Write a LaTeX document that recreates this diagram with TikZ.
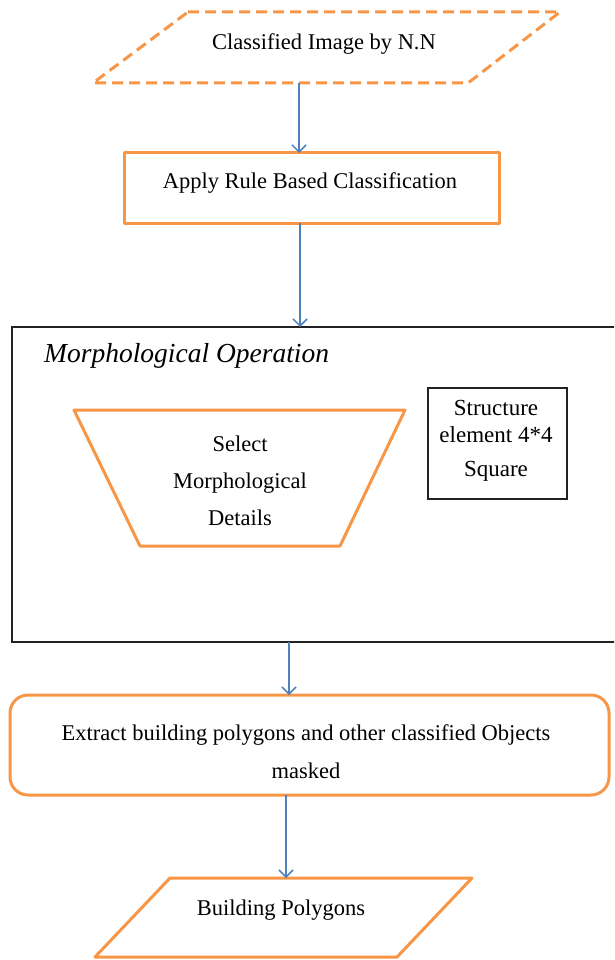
\documentclass[tikz,border=0pt]{standalone}
\usepackage{fontspec}
\setmainfont{Liberation Serif}
\usetikzlibrary{arrows.meta}
\definecolor{accent}{HTML}{F79646}
\definecolor{flow}{HTML}{4F81BD}
\definecolor{frame}{HTML}{222222}
\begin{document}
\begin{tikzpicture}[x=1pt,y=-1pt,
  txt/.style={font=\fontsize{22.5}{37}\selectfont, align=center, inner sep=0pt},
  orangeline/.style={draw=accent, line width=3pt, line join=round},
  blackline/.style={draw=frame, line width=2pt},
  area/.style={rectangle, inner sep=0pt, outer sep=0pt},
  arr/.style={draw=flow, line width=1.5pt, -{Straight Barb[length=7pt,width=14pt,line width=1.5pt]}}]
\useasboundingbox (0,0) rectangle (614,960);
\clip (0,0) rectangle (614,960);

% input data (dashed parallelogram)
\draw[orangeline, dashed, dash pattern=on 11pt off 6pt]
  (188,12) -- (560,12) -- (468,83) -- (93,83) -- cycle;
\node[area, minimum width=467pt, minimum height=71pt] (img) at (326.5,47.5) {};
\node[txt] (imgtxt) at (324,44) {Classified Image by N.N};

% rule based classification
\node[area, orangeline, minimum width=375pt, minimum height=70pt] (rule) at (311.5,188) {};
\node[txt] (ruletxt) at (310,183) {Apply Rule Based Classification};

% morphological operation frame
\node[area, blackline, minimum width=606pt, minimum height=315pt] (morph) at (315,484.5) {};
\node[txt, font=\fontsize{27.5}{30}\itshape, anchor=west] (morphtxt) at (44,356) {Morphological Operation};

% trapezoid
\draw[orangeline] (74,410) -- (405,410) -- (340,546) -- (140,546) -- cycle;
\node[txt] (select) at (240,481) {Select\\Morphological\\Details};

% structure element
\node[area, blackline, minimum width=139pt, minimum height=111pt] (struct) at (497.5,443) {};
\node[txt, font=\fontsize{23}{27}\selectfont] (structtxt) at (496,441) {Structure\\element 4*4\\[7pt]Square};

% extraction
\node[area, orangeline, rounded corners=18pt, minimum width=599pt, minimum height=100pt] (extract) at (309.5,745) {};
\node[txt, font=\fontsize{22.5}{38}\selectfont] (extracttxt) at (306,752) {Extract building polygons and other classified Objects\\masked};

% output (parallelogram)
\draw[orangeline] (170,878) -- (472,878) -- (397,957) -- (95,957) -- cycle;
\node[area, minimum width=377pt, minimum height=79pt] (out) at (283.5,917.5) {};
\node[txt] (outtxt) at (281,910) {Building Polygons};

% connectors
\coordinate (c1) at (299,0);
\coordinate (c2) at (300,0);
\coordinate (c3) at (289,0);
\coordinate (c4) at (286,0);
\draw[arr] (img.south -| c1) -- (rule.north -| c1);
\draw[arr] (rule.south -| c2) -- (morph.north -| c2);
\draw[arr] (morph.south -| c3) -- (extract.north -| c3);
\draw[arr] (extract.south -| c4) -- (out.north -| c4);
\end{tikzpicture}
\end{document}
